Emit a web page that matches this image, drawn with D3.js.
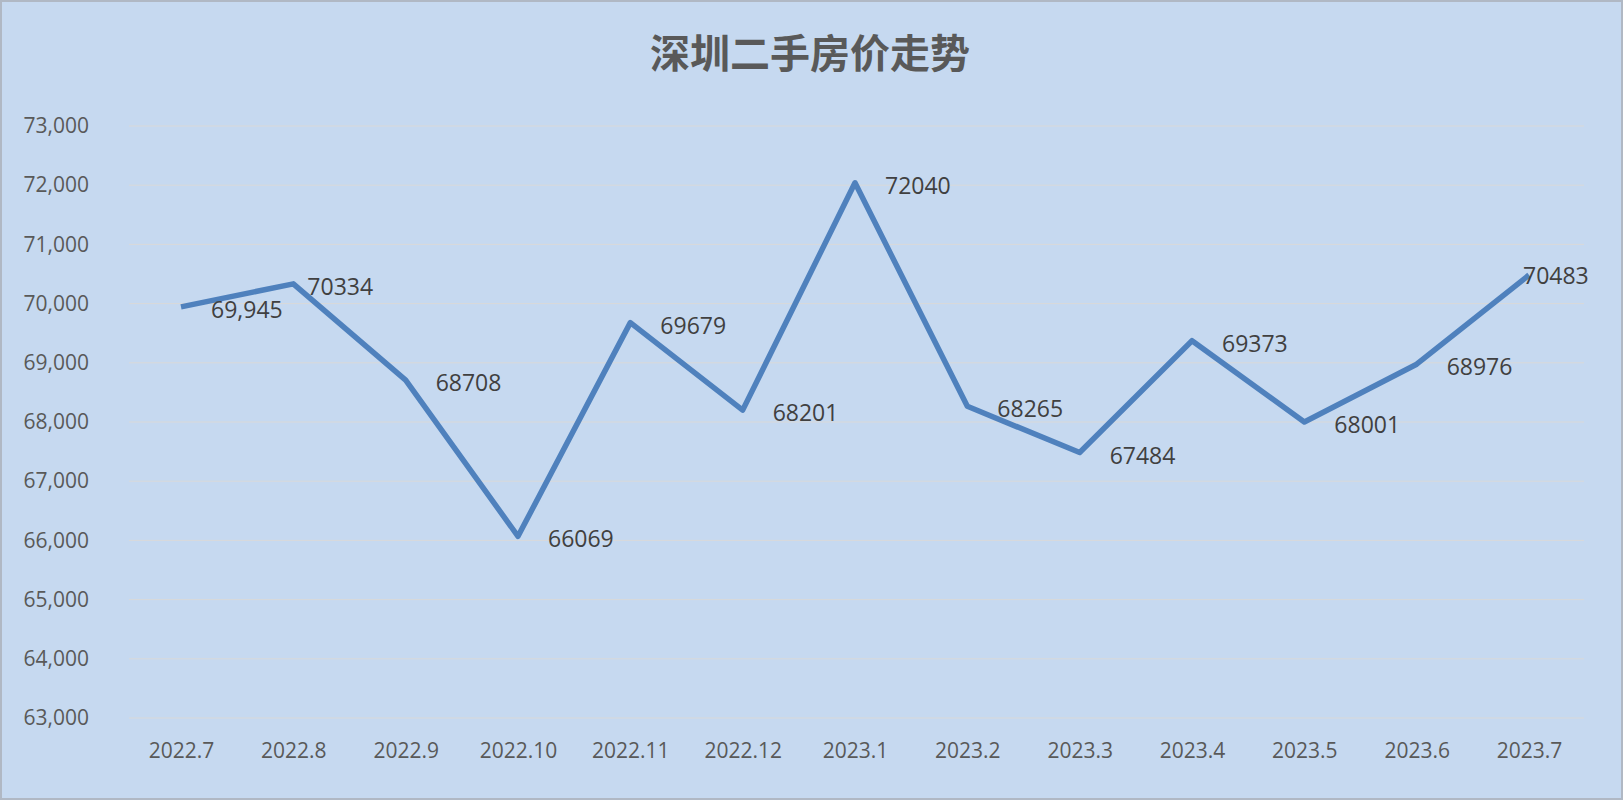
<!DOCTYPE html>
<html><head><meta charset="utf-8">
<script src="https://cdn.jsdelivr.net/npm/d3@7/dist/d3.min.js"></script>
<style>body{margin:0;background:#fff}</style></head>
<body><svg id="c" width="1623" height="800"></svg>
<script>
const categories=["2022.7","2022.8","2022.9","2022.10","2022.11","2022.12","2023.1","2023.2","2023.3","2023.4","2023.5","2023.6","2023.7"];
const values=[69945,70334,68708,66069,69679,68201,72040,68265,67484,69373,68001,68976,70483];
const labels=["69,945","70334","68708","66069","69679","68201","72040","68265","67484","69373","68001","68976","70483"];
const yTicks=[63000,64000,65000,66000,67000,68000,69000,70000,71000,72000,73000];
const title="深圳二手房价走势";

const svg=d3.select("#c");
svg.append("rect").attr("x",1).attr("y",1).attr("width",1621).attr("height",798)
  .attr("fill","#c6d9f0").attr("stroke","#b0b8c4").attr("stroke-width",2);
const x=d3.scalePoint().domain(categories).range([181,1529]);
const y=d3.scaleLinear().domain([63000,73000]).range([718,126]);
svg.selectAll("line.grid").data(yTicks).join("line")
  .attr("x1",129).attr("x2",1584).attr("y1",d=>y(d)).attr("y2",d=>y(d))
  .attr("stroke","#d9d9d9").attr("stroke-width",1);
const ya=svg.append("g").attr("transform","translate(92,0)")
  .call(d3.axisLeft(y).tickValues(yTicks).tickFormat(d3.format(",")).tickSize(0));
ya.select(".domain").remove();
ya.selectAll("text").attr("font-family","Open Sans, Liberation Sans").attr("font-size",21).attr("fill","#595959");
const xa=svg.append("g").attr("transform","translate(0,748)")
  .call(d3.axisBottom(x).tickSize(0));
xa.select(".domain").remove();
xa.selectAll("text").attr("font-family","Open Sans, Liberation Sans").attr("font-size",21).attr("fill","#595959").attr("dy","0.35em");
svg.append("path").datum(values)
  .attr("d",d3.line().x((d,i)=>x(categories[i])).y(d=>y(d)))
  .attr("fill","none").attr("stroke","#4f81bd").attr("stroke-width",5.5).attr("stroke-linejoin","round");
svg.selectAll("text.lbl").data(values).join("text")
  .attr("x",(d,i)=>x(categories[i])+(i==12?-6:(i==1?14:30))).attr("y",(d,i)=>y(d)+(i==12?1:3))
  .attr("dy","0.35em").attr("font-family","Open Sans, Liberation Sans").attr("font-size",23).attr("fill","#404040")
  .text((d,i)=>labels[i]);
svg.append("text").attr("x",810).attr("y",54).attr("text-anchor","middle").attr("dy","0.35em")
  .attr("font-family","Noto Sans CJK SC").attr("font-weight","bold").attr("font-size",40).attr("fill","#595959").text(title);
</script></body></html>
